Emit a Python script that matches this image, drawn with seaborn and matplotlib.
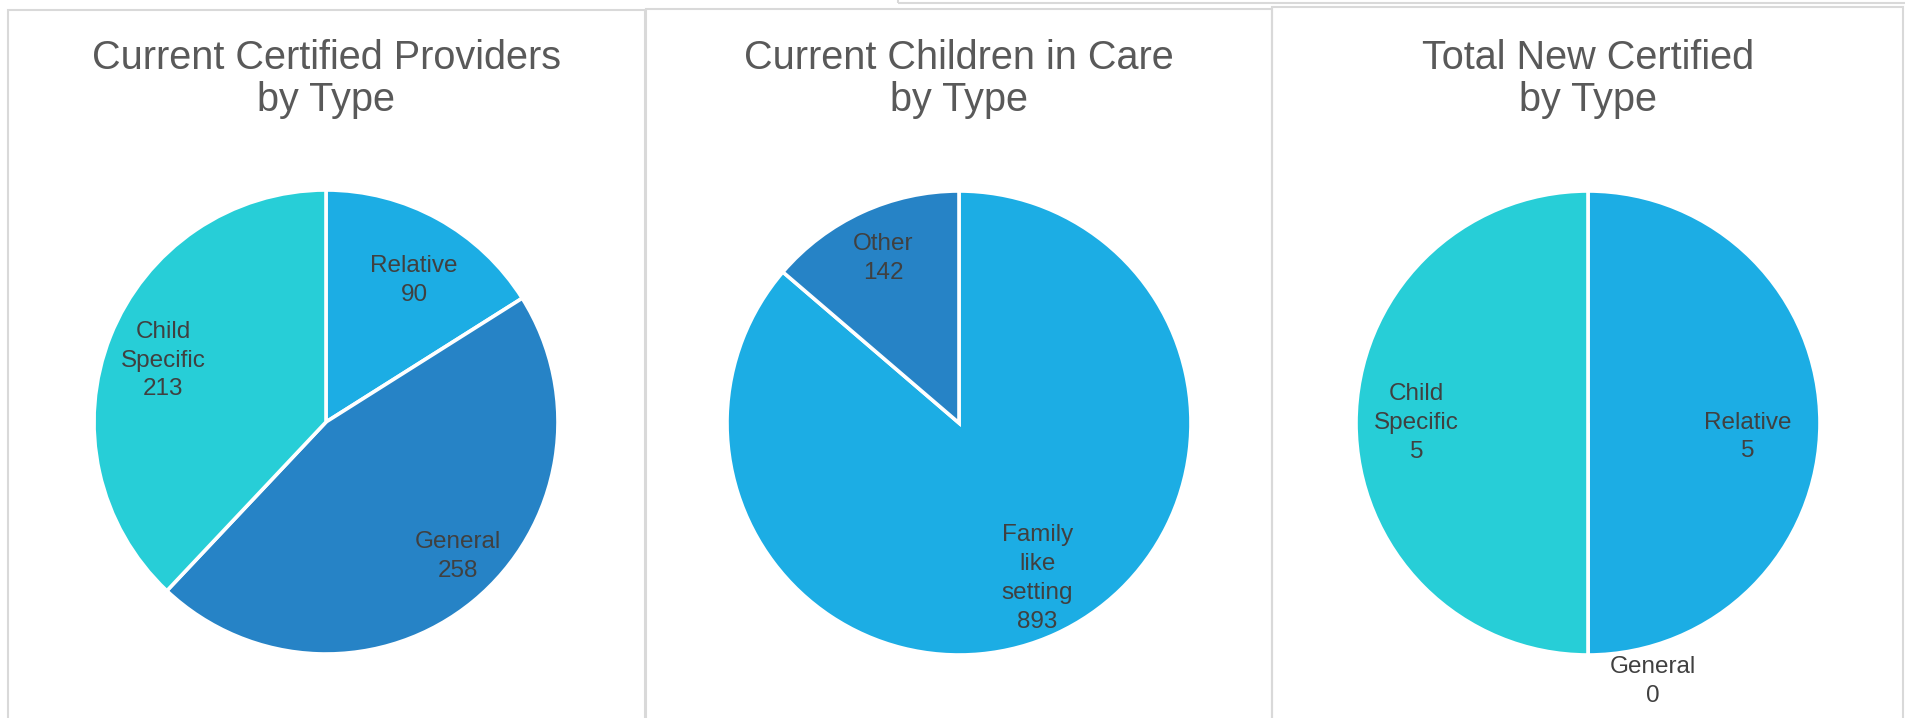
import textwrap
import numpy as np
import matplotlib
matplotlib.use("Agg")
import matplotlib.pyplot as plt
from matplotlib.patches import Rectangle
import seaborn as sns

# ---------------- data ----------------
prov_types = ["Relative", "General", "Child Specific"]
prov_counts = [90, 258, 213]

care_types = ["Family like setting", "Other"]
care_counts = [893, 142]

new_types = ["Relative", "General", "Child Specific"]
new_counts = [5, 0, 5]

titles = ["Current Certified Providers\nby Type",
          "Current Children in Care\nby Type",
          "Total New Certified\nby Type"]

# ---------------- style ----------------
sns.set_theme(style="white")
plt.rcParams['font.family'] = ['Liberation Sans', 'DejaVu Sans']

theme = sns.color_palette(["#1CADE4", "#2683C6", "#27CED7"])
color_map = {"Relative": theme[0], "General": theme[1], "Child Specific": theme[2],
             "Family like setting": theme[0], "Other": theme[1]}

W, H = 1906, 718
fig = plt.figure(figsize=(W / 100, H / 100), dpi=100)
fig.patch.set_facecolor("white")

def px_rect(x0, y0_top, x1, y1_top, **kw):
    # rectangle given in pixel coords measured from the top-left
    r = Rectangle((x0 / W, 1 - y1_top / H), (x1 - x0) / W, (y1_top - y0_top) / H,
                  transform=fig.transFigure, fill=False, **kw)
    fig.add_artist(r)

border = dict(edgecolor="#D9D9D9", linewidth=1.5)
px_rect(8, 10, 645, 760, **border)
px_rect(646, 9, 1272, 760, **border)
px_rect(1272, 7, 1903, 760, **border)
px_rect(898, -20, 1930, 3, **border)

# label layout: (radius fraction, angular nudge in degrees) per slice
panels = [
    dict(types=prov_types, counts=prov_counts, cx=326, cy=422,
         lr=[0.72, 0.81, 0.75], nudge=[-3, 5, 1]),
    dict(types=care_types, counts=care_counts, cx=959, cy=423,
         lr=[0.75, 0.78], nudge=[2, 0]),
    dict(types=new_types, counts=new_counts, cx=1588, cy=423,
         lr=[0.69, 1.15, 0.74], nudge=[-5, 14, 0]),
]
R = 232

for p, title in zip(panels, titles):
    cx, cy = p["cx"], p["cy"]
    ax = fig.add_axes([(cx - R) / W, (H - cy - R) / H, 2 * R / W, 2 * R / H])
    wedges, _ = ax.pie(p["counts"], startangle=90, counterclock=False,
                       colors=[color_map[t] for t in p["types"]],
                       wedgeprops=dict(edgecolor="white", linewidth=2.6))
    ax.set_xlim(-1, 1)
    ax.set_ylim(-1, 1)
    ax.set_aspect("auto")
    ax.axis("off")
    for w, name, val, d, nd in zip(wedges, p["types"], p["counts"], p["lr"], p["nudge"]):
        mid = np.deg2rad((w.theta1 + w.theta2) / 2 + nd)
        ax.text(d * np.cos(mid), d * np.sin(mid),
                textwrap.fill(name, 8) + "\n" + str(val),
                ha="center", va="center", fontsize=17.5, color="#404040",
                linespacing=1.4, clip_on=False)
    l1, l2 = title.split("\n")
    fig.text(cx / W, 1 - 69 / H, l1, ha="center", va="baseline",
             fontsize=28.5, color="#595959")
    fig.text(cx / W, 1 - 111 / H, l2, ha="center", va="baseline",
             fontsize=28.5, color="#595959")

fig.savefig("out.png", dpi=100, facecolor="white")
